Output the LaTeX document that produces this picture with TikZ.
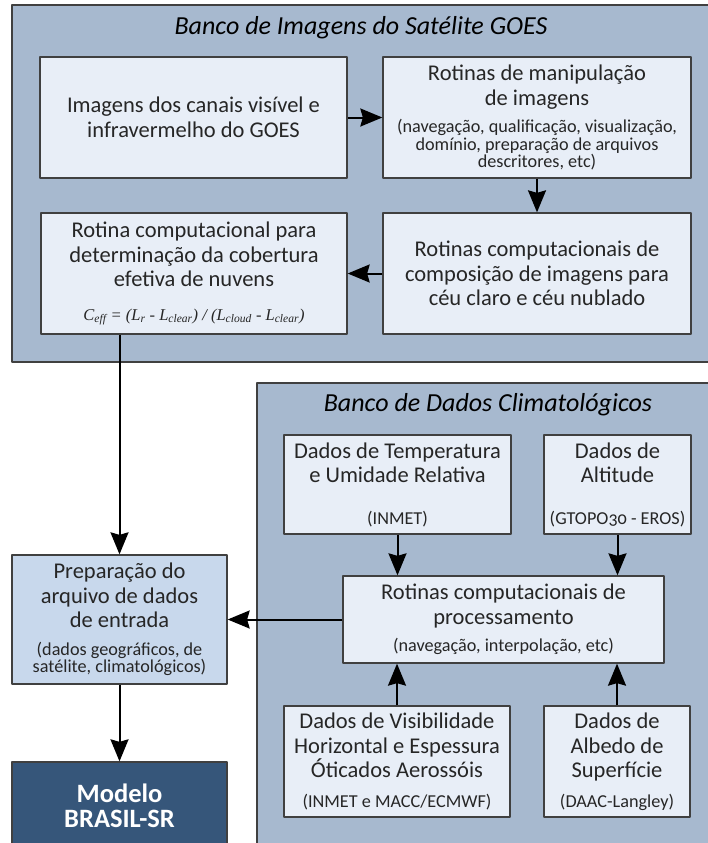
\documentclass[tikz,border=0pt]{standalone}
\usepackage{fontspec}
\setmainfont{Carlito}[Numbers=OldStyle]
\newfontfamily\serifa{Liberation Serif}
\usetikzlibrary{arrows.meta}
\definecolor{fundo}{HTML}{A7B9CF}
\definecolor{claro}{HTML}{E8EEF7}
\definecolor{medio}{HTML}{C8D8EC}
\definecolor{escuro}{HTML}{36567A}
\newcommand{\pq}{\fontsize{18.2}{17.5}\selectfont}
\begin{document}
\begin{tikzpicture}[x=1pt,y=-1pt,line join=round,
	>={Stealth[length=22pt,width=18pt,inset=2.5pt]},
	font=\fontsize{22.5}{24.5}\selectfont,
	banco/.style={draw=black!75,line width=1.4pt,fill=fundo},
	caixa/.style={draw=black!75,line width=1.3pt,fill=claro,text=black!85,align=center,inner sep=2pt},
	seta/.style={->,line width=2pt}]
		\useasboundingbox (0,0) rectangle (708,843);
		\clip (0,0) rectangle (708,843);
		% banco de imagens
		\draw[banco] (12,5) rectangle (715,362);
		\node[font=\fontsize{26}{30}\selectfont\itshape] (titgoes) at (361,28) {Banco de Imagens do Satélite GOES};
		\node[caixa,minimum width=307,minimum height=121] (imgs) at (193.5,117.5) {Imagens dos canais visível e\\ infravermelho do GOES};
		\node[caixa,minimum width=308,minimum height=121] (manip) at (537,117.5) {Rotinas de manipulação\\ de imagens\\[3pt] \pq (navegação, qualificação, visualização,\\[-7pt] \pq domínio, preparação de arquivos\\[-7pt] \pq descritores, etc)};
		\node[caixa,minimum width=306,minimum height=121] (cober) at (194,273.5) {Rotina computacional para\\ determinação da cobertura\\ efetiva de nuvens\\[9pt] {\serifa\itshape\fontsize{16.5}{18}\selectfont C\textsubscript{eff} = (L\textsubscript{r} - L\textsubscript{clear}) / (L\textsubscript{cloud} - L\textsubscript{clear})}};
		\node[caixa,minimum width=308,minimum height=121] (compos) at (537,273.5) {Rotinas computacionais de\\ composição de imagens para\\ céu claro e céu nublado};
		% banco de dados
		\draw[banco] (257,383) rectangle (715,850);
		\node[font=\fontsize{26}{30}\selectfont\itshape] (titclima) at (488,405) {Banco de Dados Climatológicos};
		\node[caixa,minimum width=227,minimum height=99] (temp) at (397.5,484.5) {Dados de Temperatura\\ e Umidade Relativa\\[17pt] \pq (INMET)};
		\node[caixa,minimum width=147,minimum height=99] (alt) at (617.5,484.5) {Dados de\\ Altitude\\[17pt] \pq (GTOPO30 - EROS)};
		\node[caixa,minimum width=321,minimum height=87] (proc) at (503.5,619.5) {Rotinas computacionais de\\ processamento\\[3pt] \pq (navegação, interpolação, etc)};
		\node[caixa,minimum width=226,minimum height=111] (vis) at (397,761.5) {Dados de Visibilidade\\ Horizontal e Espessura\\ Óticados Aerossóis\\[5pt] \pq (INMET e MACC/ECMWF)};
		\node[caixa,minimum width=146,minimum height=111] (alb) at (617,761.5) {Dados de\\ Albedo de\\ Superfície\\[5pt] \pq (DAAC-Langley)};
		% entrada e modelo
		\node[caixa,fill=medio,minimum width=215,minimum height=129] (prep) at (119.5,619.5) {Preparação do\\ arquivo de dados\\ de entrada\\[3pt] \pq (dados geográficos, de\\[-7pt] \pq satélite, climatológicos)};
		\node[caixa,fill=escuro,text=white,font=\fontsize{26.5}{25}\selectfont\bfseries,minimum width=215,minimum height=88] (modelo) at (119.5,806) {Modelo\\ BRASIL-SR};
		\draw[seta] (imgs)--(manip);
		\draw[seta] (manip)--(compos);
		\draw[seta] (compos)--(cober);
		\draw[seta] (cober.south -| prep.north)--(prep.north);
		\draw[seta] (proc)--(prep);
		\draw[seta] (temp)--(temp |- proc.north);
		\draw[seta] (alt)--(alt |- proc.north);
		\draw[seta] (vis)--(vis |- proc.south);
		\draw[seta] (alb)--(alb |- proc.south);
		\draw[seta] (prep)--(modelo);
\end{tikzpicture}
\end{document}
